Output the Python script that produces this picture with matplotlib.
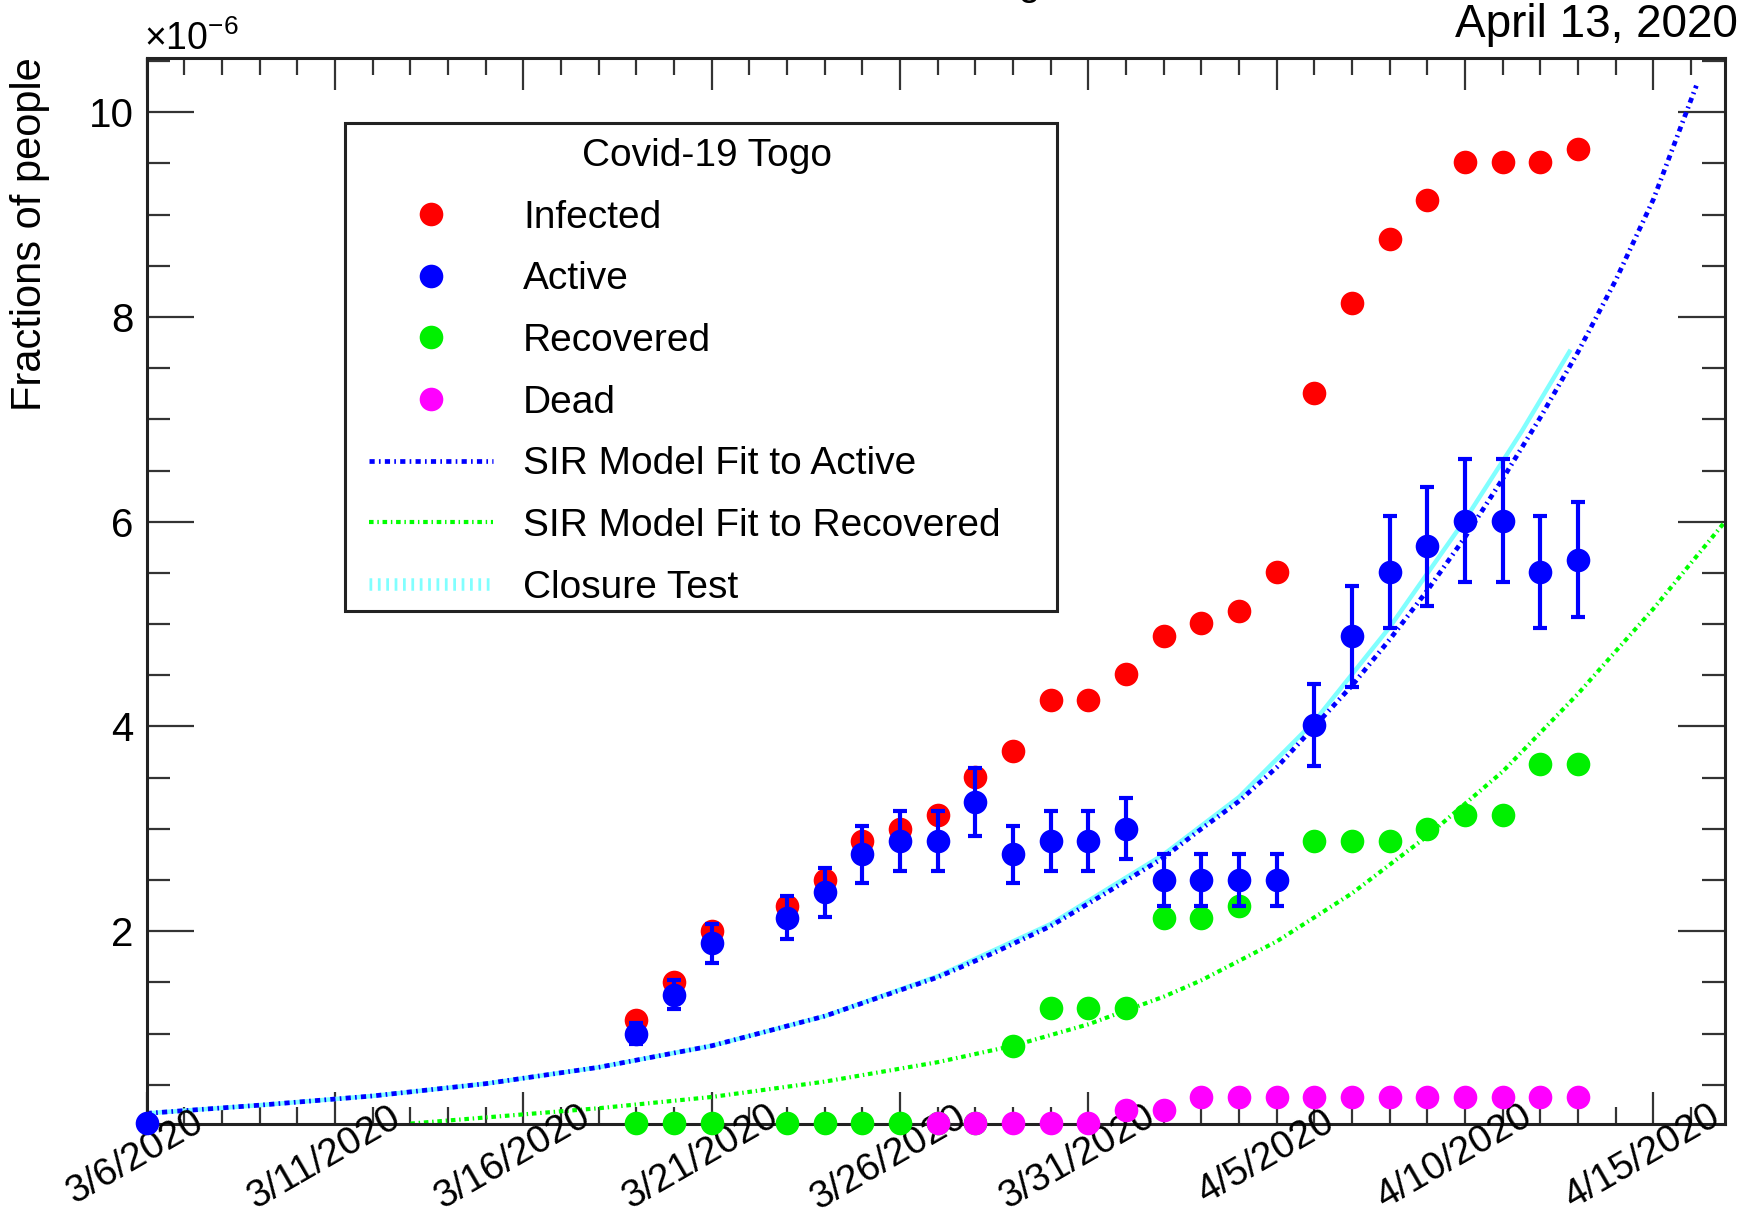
import numpy as np
import pandas as pd
import matplotlib
matplotlib.use("Agg")
import matplotlib.pyplot as plt
import matplotlib.transforms as mtrans
from matplotlib.lines import Line2D
from matplotlib.patches import Rectangle

plt.rcParams['font.family'] = ['Liberation Sans', 'DejaVu Sans']
plt.rcParams['mathtext.fontset'] = 'custom'
plt.rcParams['mathtext.rm'] = 'Liberation Sans'
plt.rcParams['mathtext.it'] = 'Liberation Sans:italic'
plt.rcParams['mathtext.bf'] = 'Liberation Sans:bold'

# ---------------- data (fractions of people, in units of 1e-6) ----------------
START = '2020-03-06'

infected_dates = ['2020-03-19', '2020-03-20', '2020-03-21', '2020-03-23', '2020-03-24',
                  '2020-03-25', '2020-03-26', '2020-03-27', '2020-03-28', '2020-03-29',
                  '2020-03-30', '2020-03-31', '2020-04-01', '2020-04-02', '2020-04-03',
                  '2020-04-04', '2020-04-05', '2020-04-06', '2020-04-07', '2020-04-08',
                  '2020-04-09', '2020-04-10', '2020-04-11', '2020-04-12', '2020-04-13']
infected = [1.13, 1.50, 2.00, 2.25, 2.50, 2.88, 3.00, 3.13, 3.51, 3.76, 4.26, 4.26, 4.51,
            4.88, 5.01, 5.13, 5.51, 7.26, 8.14, 8.76, 9.14, 9.51, 9.51, 9.51, 9.64]

active_dates = ['2020-03-06', '2020-03-19', '2020-03-20', '2020-03-21', '2020-03-23',
                '2020-03-24', '2020-03-25', '2020-03-26', '2020-03-27', '2020-03-28',
                '2020-03-29', '2020-03-30', '2020-03-31', '2020-04-01', '2020-04-02',
                '2020-04-03', '2020-04-04', '2020-04-05', '2020-04-06', '2020-04-07',
                '2020-04-08', '2020-04-09', '2020-04-10', '2020-04-11', '2020-04-12',
                '2020-04-13']
active = [0.125, 1.00, 1.38, 1.88, 2.13, 2.38, 2.75, 2.88, 2.88, 3.26, 2.75, 2.88, 2.88,
          3.00, 2.50, 2.50, 2.50, 2.50, 4.01, 4.88, 5.51, 5.76, 6.01, 6.01, 5.51, 5.63]
active_err = [0.01, 0.10, 0.14, 0.19, 0.21, 0.24, 0.28, 0.29, 0.29, 0.33, 0.28, 0.29, 0.29,
              0.30, 0.25, 0.25, 0.25, 0.25, 0.40, 0.49, 0.55, 0.58, 0.60, 0.60, 0.55, 0.56]

recovered_dates = ['2020-03-19', '2020-03-20', '2020-03-21', '2020-03-23', '2020-03-24',
                   '2020-03-25', '2020-03-26', '2020-03-27', '2020-03-28', '2020-03-29',
                   '2020-03-30', '2020-03-31', '2020-04-01', '2020-04-02', '2020-04-03',
                   '2020-04-04', '2020-04-06', '2020-04-07', '2020-04-08', '2020-04-09',
                   '2020-04-10', '2020-04-11', '2020-04-12', '2020-04-13']
recovered = [0.125, 0.125, 0.125, 0.125, 0.125, 0.125, 0.125, 0.125, 0.125, 0.88, 1.25,
             1.25, 1.25, 2.13, 2.13, 2.25, 2.88, 2.88, 2.88, 3.00, 3.13, 3.13, 3.63, 3.63]

dead_dates = ['2020-03-27', '2020-03-28', '2020-03-29', '2020-03-30', '2020-03-31',
              '2020-04-01', '2020-04-02', '2020-04-03', '2020-04-04', '2020-04-05',
              '2020-04-06', '2020-04-07', '2020-04-08', '2020-04-09', '2020-04-10',
              '2020-04-11', '2020-04-12', '2020-04-13']
dead = [0.125, 0.125, 0.125, 0.125, 0.125, 0.25, 0.25, 0.376, 0.376, 0.376, 0.376, 0.376,
        0.376, 0.376, 0.376, 0.376, 0.376, 0.376]

# model curves (days since 3/6/2020)
sir_active_days = [0, 3, 6, 9, 12, 15, 18, 21, 22.5, 24, 25.5, 27, 28, 29, 30, 31, 32, 33,
                   34, 35, 36, 37, 38, 39, 40, 41.14]
sir_active = [0.22, 0.30, 0.39, 0.51, 0.67, 0.88, 1.17, 1.55, 1.79, 2.05, 2.38, 2.72, 3.00,
              3.27, 3.60, 4.00, 4.40, 4.85, 5.33, 5.85, 6.42, 7.02, 7.66, 8.36, 9.15, 10.26]
sir_recovered_days = [7, 9, 12, 15, 18, 21, 23, 25, 27, 28, 30, 32, 34, 36, 38, 40, 41.9]
sir_recovered = [0.12, 0.18, 0.27, 0.38, 0.53, 0.72, 0.88, 1.09, 1.36, 1.52, 1.90, 2.37,
                 2.93, 3.56, 4.32, 5.15, 6.00]
closure_days = [0, 3, 6, 9, 12, 15, 18, 21, 24, 27, 29, 31, 33, 35, 36.5, 37.8]
closure = [0.22, 0.30, 0.39, 0.51, 0.67, 0.88, 1.17, 1.56, 2.07, 2.75, 3.31, 4.05, 4.97,
           6.02, 6.88, 7.68]

xtick_days = [0, 5, 10, 15, 20, 25, 30, 35, 40]
xtick_labels = ['3/6/2020', '3/11/2020', '3/16/2020', '3/21/2020', '3/26/2020',
                '3/31/2020', '4/5/2020', '4/10/2020', '4/15/2020']
ytick_vals = [2, 4, 6, 8, 10]
ytick_labels = ['2', '4', '6', '8', '10']


def days(ds):
    return ((pd.to_datetime(ds) - pd.Timestamp(START)) / pd.Timedelta(days=1)).to_numpy()


RED = '#ff0000'
BLUE = '#0000ff'
GREEN = '#00f000'
MAGENTA = '#ff00ff'
CYAN = '#80ffff'

fig = plt.figure(figsize=(17.39, 12.18), dpi=100)
W, H = 1739.0, 1218.0
ax_l, ax_r, ax_t, ax_b = 146.7, 1725.0, 57.5, 1124.0
ax = fig.add_axes([ax_l / W, 1 - ax_b / H, (ax_r - ax_l) / W, (ax_b - ax_t) / H])

# curves
ax.plot(closure_days, closure, color=CYAN, lw=3.2, solid_capstyle='butt', zorder=2)
l_sa, = ax.plot(sir_active_days, sir_active, color=BLUE, lw=3.4,
                dashes=(1.1, 0.9, 0.35, 0.9), zorder=2.5)
l_sr, = ax.plot(sir_recovered_days, sir_recovered, color='#00ff00', lw=3.0,
                dashes=(1.1, 0.9, 0.35, 0.9), zorder=2.5)

ms = 17
h_inf, = ax.plot(days(infected_dates), infected, 'o', color=RED, ms=ms, mew=0,
                 clip_on=False, zorder=3)
h_rec, = ax.plot(days(recovered_dates), recovered, 'o', color=GREEN, ms=ms, mew=0,
                 clip_on=False, zorder=3.1)
h_dead, = ax.plot(days(dead_dates), dead, 'o', color=MAGENTA, ms=ms, mew=0,
                  clip_on=False, zorder=3.2)
ax.errorbar(days(active_dates), active, yerr=active_err, fmt='none', ecolor=BLUE,
            elinewidth=3.0, capsize=4.8, capthick=3.0, zorder=3.3, clip_on=False)
h_act, = ax.plot(days(active_dates), active, 'o', color=BLUE, ms=ms, mew=0,
                 clip_on=False, zorder=3.4)

ax.set_xlim(0, 41.9)
ax.set_ylim(0.116, 10.535)

# ticks
ax.set_xticks(xtick_days)
ax.set_xticklabels([''] * len(xtick_days))
ax.set_xticks(np.arange(0, 42, 1), minor=True)
ax.set_yticks(ytick_vals)
ax.set_yticklabels(ytick_labels, fontsize=29)
ax.set_yticks(np.arange(0.5, 10.6, 0.5), minor=True)
ax.tick_params(which='both', direction='in', top=True, right=True, color='#333333',
               width=1.6)
ax.tick_params(axis='x', which='major', length=23)
ax.tick_params(axis='x', which='minor', length=12)
ax.tick_params(axis='y', which='major', length=34, pad=9.5)
ax.tick_params(axis='y', which='minor', length=16.5)
for sp in ax.spines.values():
    sp.set_linewidth(2.2)
    sp.set_color('#222222')

# x tick labels (ROOT-style, rotated and overlapping the axis)
blend = mtrans.blended_transform_factory(ax.transData, ax.transAxes)
off = mtrans.ScaledTranslation(-11 / 100.0, -33.5 / 100.0, fig.dpi_scale_trans)
for d, lab in zip(xtick_days, xtick_labels):
    ax.text(d, 0, lab, transform=blend + off, rotation=30, ha='center', va='center',
            fontsize=28, clip_on=False)

# y label
ax.set_ylabel('Fractions of people', fontsize=30, loc='top')
ax.yaxis.set_label_coords((50 - ax_l) / (ax_r - ax_l), 1.0)

# exponent
fig.text(144 / W, 1 - 50 / H, r'$\times10^{-6}$', fontsize=27, ha='left', va='baseline')

# date stamp and (cut-off) canvas title
fig.text(1738 / W, 1 - 37 / H, 'April 13, 2020', fontsize=33, ha='right', va='baseline')
fig.text(937 / W, 1 + 5 / H, 'Covid-19 Togo', fontsize=28, ha='center', va='baseline')

# legend box
bx0, by0, bx1, by1 = 345, 123, 1057, 611
frame = Rectangle((bx0 / W, 1 - by1 / H), (bx1 - bx0) / W, (by1 - by0) / H,
                  transform=fig.transFigure, facecolor='white', edgecolor='#222222',
                  lw=2.2, zorder=4)
fig.add_artist(frame)

h_clos = Line2D([], [], color=CYAN, lw=9, dashes=(0.22, 0.45))
handles = [h_inf, h_act, h_rec, h_dead, l_sa, l_sr, h_clos]
labels = ['Infected', 'Active', 'Recovered', 'Dead', 'SIR Model Fit to Active',
          'SIR Model Fit to Recovered', 'Closure Test']
leg = fig.legend(handles, labels, title='Covid-19 Togo', loc='upper left',
                 bbox_to_anchor=(369 / W, 1 - 138 / H, (1046 - 369) / W, 0),
                 bbox_transform=fig.transFigure, mode='expand', frameon=False,
                 fontsize=28, title_fontsize=28, handlelength=3.19, handletextpad=0.77,
                 labelspacing=0.66, borderpad=0, borderaxespad=0, numpoints=1)
leg.set_zorder(5)

fig.savefig('out.png', dpi=100)
